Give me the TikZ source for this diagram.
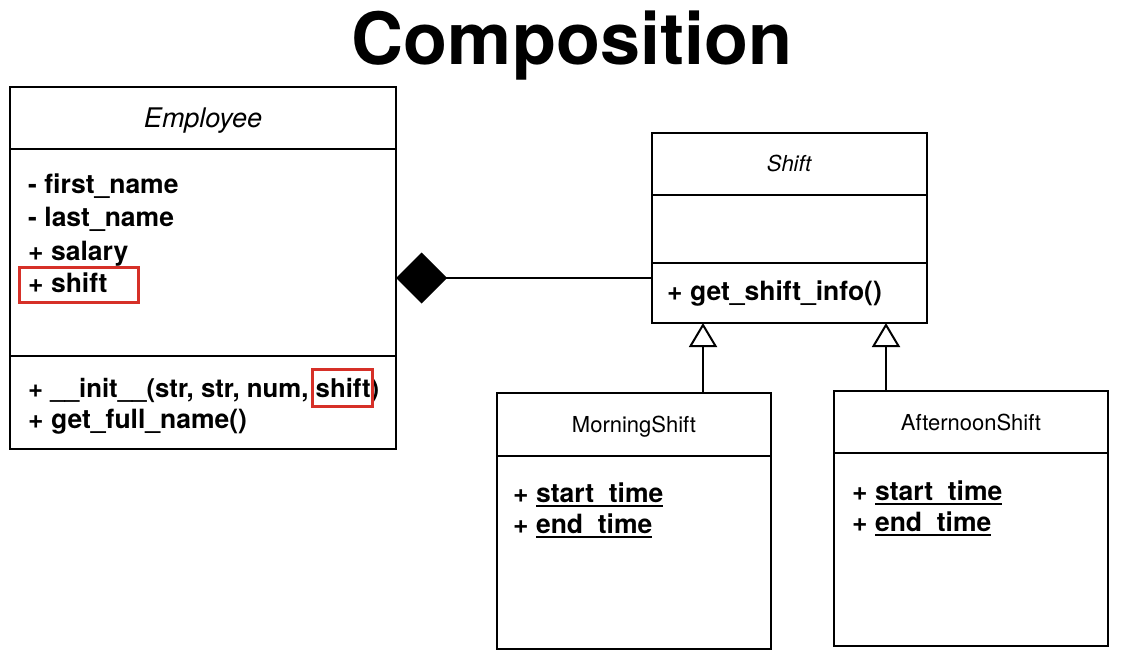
\documentclass[tikz,border=0pt]{standalone}
\usepackage{fontspec}
\setmainfont{TeX Gyre Heros}
\usetikzlibrary{arrows.meta}
\definecolor{hl}{RGB}{214,48,40}
\newcommand{\ulx}[1]{\setbox0\hbox{#1}\rlap{\rule[-4.5pt]{\wd0}{2pt}}\box0}
\tikzset{
  cls/.style={draw, line width=2pt, inner sep=0pt, outer sep=0pt, anchor=north west},
  attr/.style={anchor=base west, inner sep=0pt, font=\fontsize{26.5}{30}\selectfont\bfseries},
  bigttl/.style={anchor=base, inner sep=0pt, font=\fontsize{27}{30}\selectfont\itshape},
  smttl/.style={anchor=base, inner sep=0pt, font=\fontsize{22}{26}\selectfont\itshape},
  rgttl/.style={anchor=base, inner sep=0pt, font=\fontsize{22}{26}\selectfont},
  mark box/.style={draw=hl, line width=3pt, inner sep=0pt, outer sep=0pt, anchor=north west},
  conn/.style={line width=2pt},
}
\begin{document}
\begin{tikzpicture}[x=1pt,y=-1pt]
\useasboundingbox (0,0) rectangle (1142,660);
\fill[white] (0,0) rectangle (1142,660);

% title
\node[anchor=base, inner sep=0pt, font=\fontsize{72}{80}\selectfont\bfseries] (title) at (572,65) {Composition};

% Employee
\node[cls, minimum width=386pt, minimum height=62pt] (emph) at (10,87) {};
\node[cls, minimum width=386pt, minimum height=207pt] (empa) at (10,149) {};
\node[cls, minimum width=386pt, minimum height=93pt] (empm) at (10,356) {};
\node[bigttl] (empt) at (203,128) {Employee};
\node[attr] (ea1) at (28,194) {- first\_name};
\node[attr] (ea2) at (28,227) {- last\_name};
\node[attr] (ea3) at (28,260) {+ salary};
\node[attr] (ea4) at (28,292) {+ shift};
\node[attr, font=\fontsize{25.8}{30}\selectfont\bfseries] (em1) at (28,397) {+ \_\_init\_\_(str, str, num, shift)};
\node[attr] (em2) at (28,428) {+ get\_full\_name()};
\node[mark box, minimum width=119pt, minimum height=35pt] (hl1) at (19,267) {};
\node[mark box, minimum width=60pt, minimum height=37pt] (hl2) at (312,369) {};

% Shift
\node[cls, minimum width=275pt, minimum height=62pt] (shh) at (652,133) {};
\node[cls, minimum width=275pt, minimum height=68pt] (sha) at (652,195) {};
\node[cls, minimum width=275pt, minimum height=60pt] (shm) at (652,263) {};
\node[smttl] (sht) at (789,172) {Shift};
\node[attr] (sm1) at (667,300) {+ get\_shift\_info()};

% MorningShift
\node[cls, minimum width=274pt, minimum height=63pt] (msh) at (497,393) {};
\node[cls, minimum width=274pt, minimum height=193pt] (msa) at (497,456) {};
\node[rgttl] (mst) at (634,432) {MorningShift};
\node[attr] (ma1) at (513,502) {+ \ulx{start\_time}};
\node[attr] (ma2) at (513,533) {+ \ulx{end\_time}};

% AfternoonShift
\node[cls, minimum width=274pt, minimum height=62pt] (ash) at (834,391) {};
\node[cls, minimum width=274pt, minimum height=193pt] (asa) at (834,453) {};
\node[rgttl] (ast) at (971,430) {AfternoonShift};
\node[attr] (aa1) at (852,500) {+ \ulx{start\_time}};
\node[attr] (aa2) at (852,531) {+ \ulx{end\_time}};

% connectors
\coordinate (cy) at (0,278);
\coordinate (gx1) at (703,0);
\coordinate (gx2) at (886,0);
\draw[conn, -{Diamond[length=51pt,width=51pt]}] (shm.west |- cy) -- (empa.east |- cy);
\draw[conn, -{Triangle[open,length=24pt,width=28pt,line width=2pt]}] (gx1 |- msh.north) -- (gx1 |- shm.south);
\draw[conn, -{Triangle[open,length=24pt,width=28pt,line width=2pt]}] (gx2 |- ash.north) -- (gx2 |- shm.south);
\end{tikzpicture}
\end{document}
